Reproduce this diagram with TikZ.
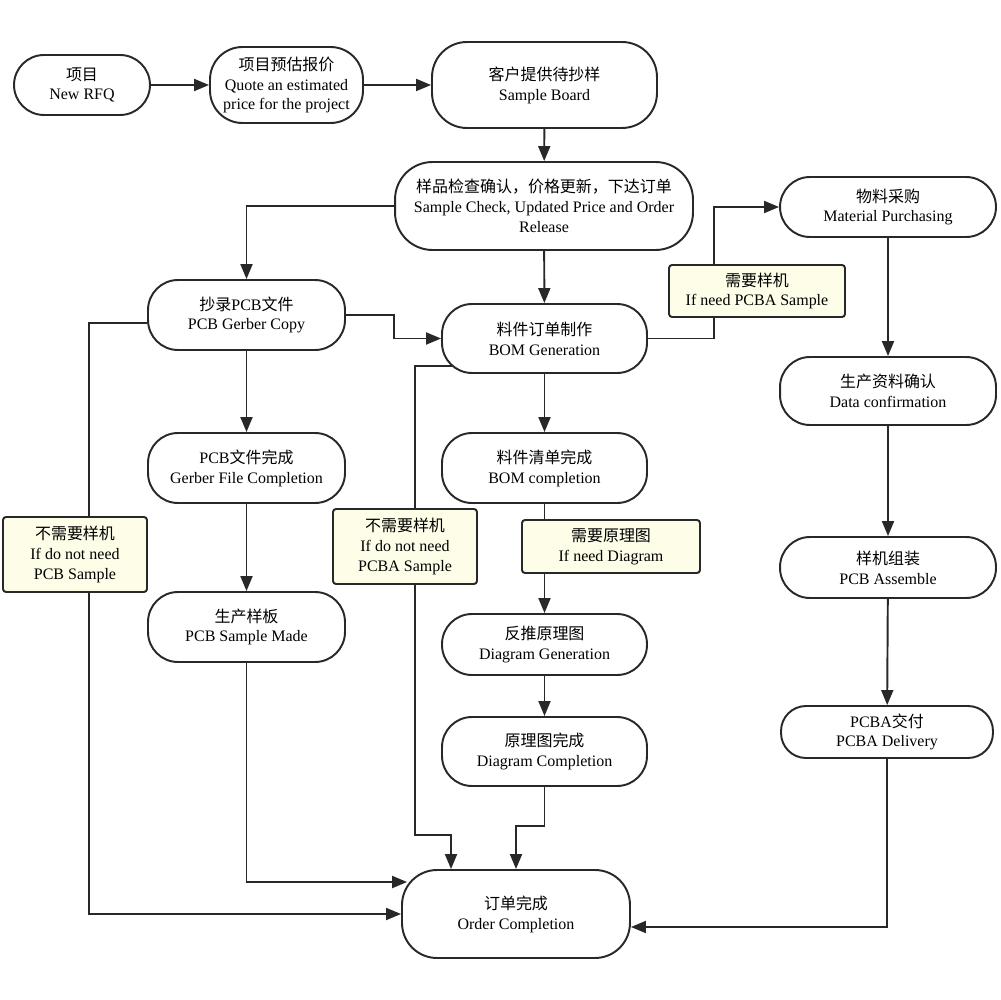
\documentclass[tikz,border=0pt]{standalone}
\usepackage{fontspec}
\setmainfont{Liberation Serif}
\newfontfamily\enfont{Liberation Serif}
\newfontfamily\cjk{Noto Sans CJK SC}
\usetikzlibrary{arrows.meta}
\definecolor{lineclr}{RGB}{40,40,40}
\definecolor{notefill}{RGB}{253,253,232}
\newcommand{\zh}[1]{{\cjk #1}}

\begin{document}
\begin{tikzpicture}[x=0.02cm, y=-0.02cm,
  every node/.style={font=\enfont\fontsize{9.1}{11.3}\selectfont},
  stage/.style={draw=lineclr, line width=1.1pt, fill=white, rounded corners=6mm, align=center, inner sep=0pt},
  note/.style={draw=lineclr, line width=1.1pt, fill=notefill, rounded corners=0.6mm, align=center, inner sep=0pt},
  flow/.style={draw=lineclr, line width=1.1pt, -{Triangle[length=3mm,width=2.4mm]}}]
  \fill[white] (0,0) rectangle (1000,1000);
  \useasboundingbox (0,0) rectangle (1000,1000);

  %top row
  \node[stage, minimum width=27.2mm, minimum height=12mm] (rfq) at (82,85) {\zh{项目}\\New RFQ};
  \node[stage, minimum width=30.6mm, minimum height=15.2mm, rounded corners=6.5mm] (quote) at (286.5,85) {\zh{项目预估报价}\\Quote an estimated\\price for the project};
  \node[stage, minimum width=45mm, minimum height=17.2mm, rounded corners=7mm] (board) at (544.5,85) {\zh{客户提供待抄样}\\Sample Board};
  \node[stage, minimum width=59.6mm, minimum height=17.6mm, rounded corners=7.5mm] (check) at (544,206) {\zh{样品检查确认，价格更新，下达订单}\\Sample Check, Updated Price and Order\\Release};

  %pcb column
  \node[stage, minimum width=39.4mm, minimum height=14mm] (gerber) at (246.5,315) {\zh{抄录}PCB\zh{文件}\\PCB Gerber Copy};
  \node[stage, minimum width=39.4mm, minimum height=14mm] (gfile) at (246.5,468) {PCB\zh{文件完成}\\Gerber File Completion};
  \node[stage, minimum width=39.4mm, minimum height=14mm] (made) at (246.5,627) {\zh{生产样板}\\PCB Sample Made};

  %bom column
  \node[stage, minimum width=41mm, minimum height=13.8mm] (bom) at (544.5,338.5) {\zh{料件订单制作}\\BOM Generation};
  \node[stage, minimum width=41mm, minimum height=14mm] (bomdone) at (544.5,468) {\zh{料件清单完成}\\BOM completion};
  \node[stage, minimum width=41mm, minimum height=12.2mm] (diag) at (544.5,644.5) {\zh{反推原理图}\\Diagram Generation};
  \node[stage, minimum width=41mm, minimum height=13.8mm] (diagdone) at (544.5,751.5) {\zh{原理图完成}\\Diagram Completion};

  %pcba column
  \node[stage, minimum width=43.2mm, minimum height=12mm] (purch) at (888,207) {\zh{物料采购}\\Material Purchasing};
  \node[stage, minimum width=43.2mm, minimum height=13.6mm] (data) at (888,391) {\zh{生产资料确认}\\Data confirmation};
  \node[stage, minimum width=43.2mm, minimum height=12.2mm] (assem) at (888,567.5) {\zh{样机组装}\\PCB Assemble};
  \node[stage, minimum width=42.4mm, minimum height=10.4mm, rounded corners=5mm] (deliv) at (887,732) {PCBA\zh{交付}\\PCBA Delivery};

  \node[stage, minimum width=45.6mm, minimum height=17.6mm, rounded corners=7mm] (order) at (516,914) {\zh{订单完成}\\Order Completion};

  %connectors
  \draw[flow] (rfq) -- (quote);
  \draw[flow] (quote) -- (board);
  \draw[flow] (board) -- (check);
  \draw[flow] (check.west) -| (gerber.north);
  \draw[flow] (check) -- (bom);
  \draw[flow] (bom.east) -- ++(66,0) |- (purch.west);
  \draw[flow] (gerber.east) -- ++(48,0) |- (bom.west);
  \draw[flow] (gerber) -- (gfile);
  \draw[flow] (gfile) -- (made);
  \draw[flow] ([yshift=-1.6mm]gerber.west) -- ++(-58,0) |- (order.west);
  \draw[flow] (made.south) |- ([xshift=1.2mm,yshift=6.4mm]order.west);
  \draw[flow] ([xshift=2.1mm,yshift=-5.5mm]bom.west) -| (415,835) -| ([xshift=-13mm]order.north);
  \draw[flow] (bom) -- (bomdone);
  \draw[flow] (bomdone) -- (diag);
  \draw[flow] (diag) -- (diagdone);
  \draw[flow] (diagdone.south) -- ++(0,39) -| (order.north);
  \draw[flow] (purch) -- (data);
  \draw[flow] (data) -- (assem);
  \draw[flow] (assem) -- (deliv);
  \draw[flow] (deliv.south) |- ([yshift=-2.6mm]order.east);

  %conditions
  \node[note, minimum width=35.2mm, minimum height=10.4mm] (needpcba) at (757,291) {\zh{需要样机}\\If need PCBA Sample};
  \node[note, minimum width=28.8mm, minimum height=15mm] (nopcb) at (75,554.5) {\zh{不需要样机}\\If do not need\\PCB Sample};
  \node[note, minimum width=28.8mm, minimum height=15mm] (nopcba) at (405,546.5) {\zh{不需要样机}\\If do not need\\PCBA Sample};
  \node[note, minimum width=35.6mm, minimum height=10.6mm] (needdiag) at (611,546.5) {\zh{需要原理图}\\If need Diagram};
\end{tikzpicture}
\end{document}
